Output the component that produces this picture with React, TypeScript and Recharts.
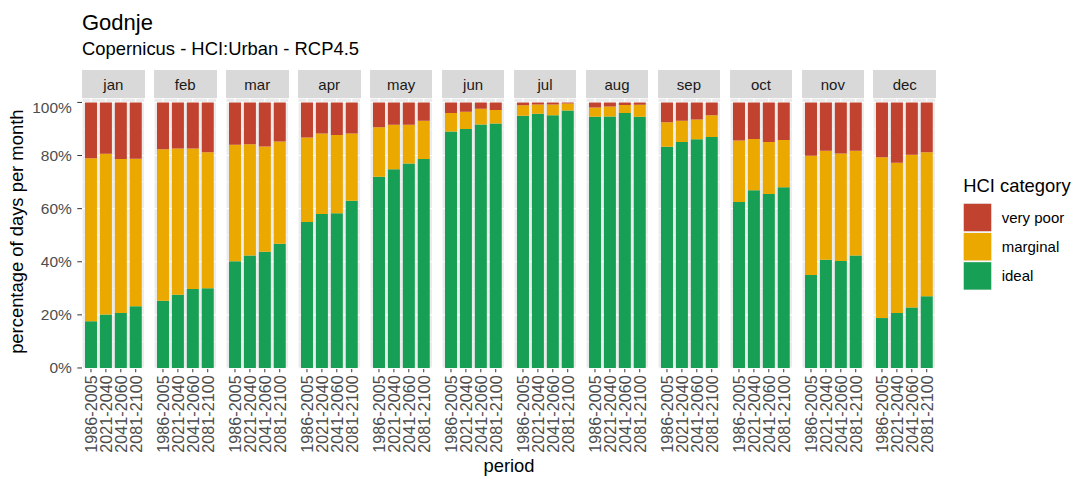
import { BarChart, Bar, XAxis, YAxis, CartesianGrid } from 'recharts';

// categories
const months = ['jan', 'feb', 'mar', 'apr', 'may', 'jun', 'jul', 'aug', 'sep', 'oct', 'nov', 'dec'];
const periods = ['1986-2005', '2021-2040', '2041-2060', '2081-2100'];

// share of days (%) per month, one row per month, one value per period
const ideal = [
  [17.6, 20.1, 20.7, 23.2],
  [25.3, 27.6, 29.7, 30.0],
  [40.2, 42.4, 43.8, 46.8],
  [55.0, 58.0, 58.3, 63.0],
  [72.0, 74.8, 77.0, 78.7],
  [89.1, 90.0, 91.7, 92.1],
  [95.0, 95.7, 95.2, 97.0],
  [94.6, 94.7, 96.0, 94.6],
  [83.3, 85.1, 86.1, 87.0],
  [62.5, 66.9, 65.5, 68.1],
  [35.0, 40.8, 40.3, 42.4],
  [18.8, 20.7, 22.8, 27.0],
];
const marginal = [
  [61.4, 60.6, 58.0, 55.6],
  [57.1, 55.1, 53.0, 51.2],
  [43.9, 41.9, 39.6, 38.5],
  [31.8, 30.3, 29.4, 25.3],
  [18.7, 16.8, 14.6, 14.4],
  [6.9, 6.5, 5.9, 5.1],
  [3.9, 3.5, 4.0, 2.6],
  [3.5, 3.8, 3.0, 4.5],
  [9.2, 8.0, 7.5, 8.2],
  [23.2, 19.3, 19.6, 17.8],
  [44.9, 41.0, 40.5, 39.4],
  [60.6, 56.6, 57.5, 54.2],
];
const veryPoor = [
  [21.0, 19.3, 21.3, 21.2],
  [17.6, 17.3, 17.3, 18.8],
  [15.9, 15.7, 16.6, 14.7],
  [13.2, 11.7, 12.3, 11.7],
  [9.3, 8.4, 8.4, 6.9],
  [4.0, 3.5, 2.4, 2.8],
  [1.1, 0.8, 0.8, 0.4],
  [1.9, 1.5, 1.0, 0.9],
  [7.5, 6.9, 6.4, 4.8],
  [14.3, 13.8, 14.9, 14.1],
  [20.1, 18.2, 19.2, 18.2],
  [20.6, 22.7, 19.7, 18.8],
];

const yTicks = [0, 20, 40, 60, 80, 100];
const yMinor = [10, 30, 50, 70, 90];
const yDomain = [-0.38, 101.66];

// stacking order, bottom first
const series = [
  { key: 'ideal', label: 'ideal', color: '#17A055' },
  { key: 'marginal', label: 'marginal', color: '#EBA900' },
  { key: 'veryPoor', label: 'very poor', color: '#C1432F' },
];

const FONT = '"Liberation Sans", Arial, sans-serif';
const PANEL_X0 = 82;
const PANEL_STEP = 71.95;
const PANEL_W = 62.7;
const STRIP_TOP = 70;
const STRIP_H = 28.3;
const PLOT_TOP = 98.3;
const PLOT_H = 271;
const XAXIS_H = 100;
const YAXIS_W = 60;

const PeriodTick = (props: any) => {
  const { x, y, payload } = props;
  return (
    <text
      x={x}
      y={y}
      transform={`rotate(-90 ${x} ${y})`}
      textAnchor="end"
      dominantBaseline="central"
      fontSize={16.2}
      fill="#4D4D4D"
    >
      {payload.value}
    </text>
  );
};

const Panel = ({ index }: { index: number }) => {
  const withY = index === 0;
  const data = periods.map((p, j) => ({
    period: p,
    ideal: ideal[index][j],
    marginal: marginal[index][j],
    veryPoor: veryPoor[index][j],
  }));
  const left = PANEL_X0 + PANEL_STEP * index;

  return (
    <>
      <div
        style={{
          position: 'absolute',
          left,
          top: STRIP_TOP,
          width: PANEL_W,
          height: STRIP_H,
          background: '#D9D9D9',
          display: 'flex',
          alignItems: 'center',
          justifyContent: 'center',
          fontSize: 15,
          color: '#1A1A1A',
        }}
      >
        {months[index]}
      </div>
      <div style={{ position: 'absolute', left: withY ? left - YAXIS_W : left, top: PLOT_TOP }}>
        <BarChart
          width={PANEL_W + (withY ? YAXIS_W : 0)}
          height={PLOT_H + XAXIS_H}
          data={data}
          margin={{ top: 0, right: 0, bottom: 0, left: 0 }}
          barCategoryGap="10%"
          barGap={0}
        >
          <CartesianGrid fill="#EBEBEB" stroke="#FFFFFF" strokeWidth={1.1} />
          <CartesianGrid yAxisId="minor" vertical={false} stroke="#FFFFFF" strokeWidth={0.5} />
          <XAxis
            dataKey="period"
            type="category"
            interval={0}
            padding={{ left: 1.5, right: 1.5 }}
            height={XAXIS_H}
            axisLine={false}
            tickSize={3.3}
            tickMargin={3}
            tickLine={{ stroke: '#333333' }}
            tick={<PeriodTick />}
          />
          <YAxis
            type="number"
            domain={yDomain}
            allowDataOverflow
            ticks={yTicks}
            hide={!withY}
            width={YAXIS_W}
            axisLine={false}
            tickSize={4.7}
            tickMargin={5.5}
            tickLine={{ stroke: '#333333' }}
            tick={{ fill: '#4D4D4D', fontSize: 15.5 }}
            tickFormatter={(v: number) => `${v}%`}
          />
          <YAxis yAxisId="minor" type="number" domain={yDomain} allowDataOverflow ticks={yMinor} hide />
          {series.map((s) => (
            <Bar key={s.key} dataKey={s.key} stackId="a" fill={s.color} isAnimationActive={false} />
          ))}
        </BarChart>
      </div>
    </>
  );
};

export default function App() {
  const legendItems = [...series].reverse();
  return (
    <div
      style={{
        position: 'absolute',
        left: 0,
        top: 0,
        width: 1074,
        height: 477,
        background: '#FFFFFF',
        fontFamily: FONT,
        overflow: 'hidden',
      }}
    >
      {months.map((m, i) => (
        <Panel key={m} index={i} />
      ))}
      <svg
        width={1074}
        height={477}
        style={{ position: 'absolute', left: 0, top: 0, pointerEvents: 'none', fontFamily: FONT }}
      >
        <text x={82} y={30} fontSize={22} fill="#000">
          Godnje
        </text>
        <text x={82} y={55} fontSize={18.4} fill="#000">
          Copernicus - HCI:Urban - RCP4.5
        </text>
        <text transform="translate(23.3 231.7) rotate(-90)" textAnchor="middle" fontSize={18.4} fill="#000">
          percentage of days per month
        </text>
        <text x={509} y={472} textAnchor="middle" fontSize={18.4} fill="#000">
          period
        </text>
        <text x={963.3} y={192.3} fontSize={18.4} fill="#000">
          HCI category
        </text>
        {legendItems.map((s, i) => (
          <g key={s.key}>
            <rect x={963.3} y={203.3 + 29.2 * i} width={28.4} height={28.4} fill="#EBEBEB" />
            <rect x={963.8} y={203.8 + 29.2 * i} width={27.4} height={27.4} fill={s.color} />
            <text x={1001.7} y={217.5 + 29.2 * i} dominantBaseline="central" fontSize={15} fill="#000">
              {s.label}
            </text>
          </g>
        ))}
      </svg>
    </div>
  );
}
